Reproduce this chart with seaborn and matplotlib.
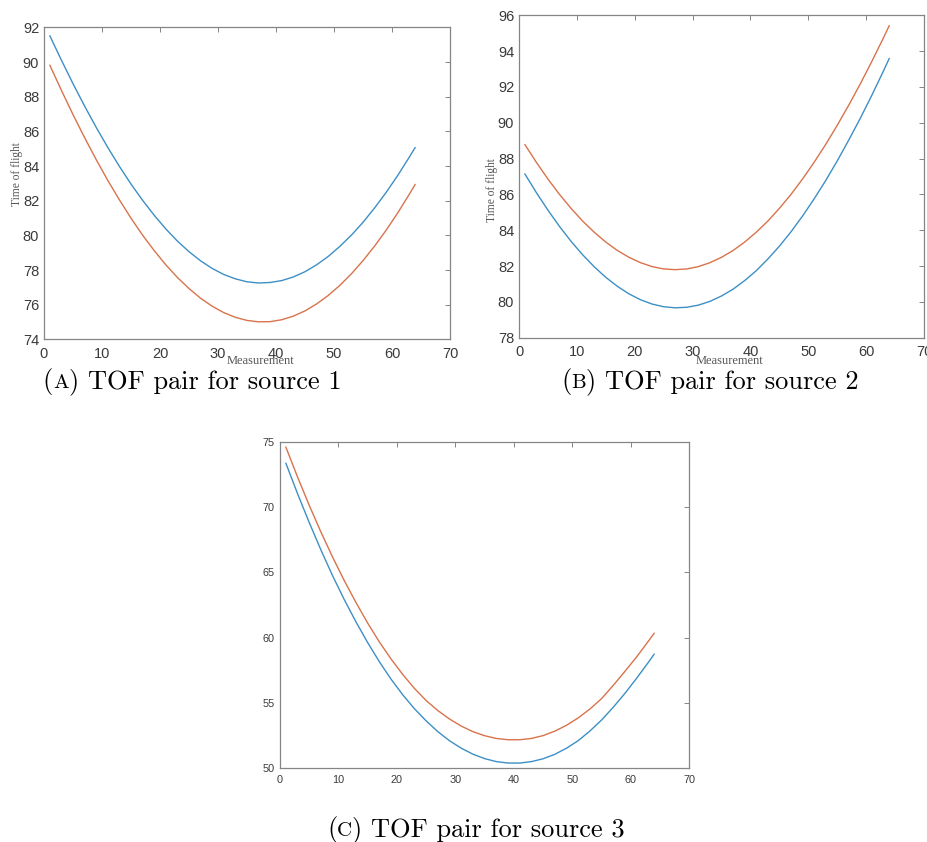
import matplotlib
matplotlib.use("Agg")
import matplotlib.pyplot as plt
import pandas as pd
import seaborn as sns
from matplotlib.offsetbox import TextArea, HPacker, AnnotationBbox

# Measurement index shared by all three sources
measurement = [1, 3, 5, 7, 9, 11, 13, 15, 17, 19, 21, 23, 25, 27, 29, 31, 33,
               35, 37, 39, 41, 43, 45, 47, 49, 51, 53, 55, 57, 59, 61, 63, 64]

# Source 1 time-of-flight pair
tof1_first = [91.52, 90.11, 88.75, 87.46, 86.23, 85.07, 83.98, 82.96, 82.02, 81.16, 80.37,
              79.67, 79.06, 78.53, 78.09, 77.74, 77.49, 77.32, 77.25, 77.28, 77.39, 77.60,
              77.90, 78.30, 78.78, 79.36, 80.01, 80.75, 81.58, 82.48, 83.46, 84.52, 85.07]
tof1_second = [89.82, 88.37, 86.97, 85.64, 84.37, 83.17, 82.05, 80.99, 80.01, 79.12, 78.30,
               77.57, 76.93, 76.37, 75.91, 75.54, 75.27, 75.09, 75.01, 75.02, 75.13, 75.34,
               75.64, 76.04, 76.53, 77.11, 77.78, 78.54, 79.38, 80.30, 81.30, 82.38, 82.94]

# Source 2 time-of-flight pair
tof2_first = [87.15, 86.10, 85.12, 84.21, 83.38, 82.63, 81.96, 81.37, 80.87, 80.45, 80.12,
              79.88, 79.73, 79.67, 79.70, 79.82, 80.03, 80.33, 80.71, 81.19, 81.74, 82.39,
              83.11, 83.91, 84.79, 85.75, 86.77, 87.87, 89.04, 90.26, 91.55, 92.90, 93.60]
tof2_second = [88.79, 87.79, 86.86, 86.00, 85.22, 84.51, 83.89, 83.34, 82.87, 82.49, 82.19,
               81.97, 81.84, 81.80, 81.84, 81.97, 82.19, 82.49, 82.87, 83.34, 83.89, 84.51,
               85.22, 86.00, 86.86, 87.79, 88.79, 89.86, 90.99, 92.18, 93.44, 94.75, 95.43]

# Source 3 time-of-flight pair
tof3_first = [73.40, 71.06, 68.84, 66.73, 64.75, 62.91, 61.20, 59.61, 58.14, 56.80, 55.60,
              54.53, 53.60, 52.77, 52.07, 51.50, 51.04, 50.70, 50.47, 50.36, 50.36, 50.47,
              50.69, 51.03, 51.50, 52.08, 52.82, 53.67, 54.65, 55.72, 56.88, 58.10, 58.73]
tof3_second = [74.64, 72.34, 70.16, 68.11, 66.18, 64.37, 62.69, 61.11, 59.66, 58.35, 57.16,
               56.09, 55.16, 54.39, 53.74, 53.20, 52.77, 52.46, 52.25, 52.15, 52.15, 52.25,
               52.47, 52.81, 53.26, 53.83, 54.51, 55.31, 56.33, 57.41, 58.52, 59.72, 60.34]

x_ticks = [0, 10, 20, 30, 40, 50, 60, 70]
y_ticks_1 = [74, 76, 78, 80, 82, 84, 86, 88, 90, 92]
y_ticks_2 = [78, 80, 82, 84, 86, 88, 90, 92, 94, 96]
y_ticks_3 = [50, 55, 60, 65, 70, 75]

captions = [("A", " TOF pair for source 1"),
            ("B", " TOF pair for source 2"),
            ("C", " TOF pair for source 3")]

BLUE = "#3d8fc5"
ORANGE = "#d8734b"
FRAME = "#858585"
TICKTEXT = "#3a3a3a"
LABEL = "#555555"

sns.set_style("white")
plt.rcParams["font.family"] = ["Liberation Sans", "DejaVu Sans"]

fig = plt.figure(figsize=(9.28, 8.42), dpi=100)
fig.patch.set_facecolor("white")

ax1 = fig.add_axes([0.0474, 0.5970, 0.4375, 0.3705])
ax2 = fig.add_axes([0.5593, 0.5989, 0.4364, 0.3829])
ax3 = fig.add_axes([0.3017, 0.0882, 0.4411, 0.3865])


def draw_pair(ax, first, second, yticks, labelsize, xpad, ypad):
    df = pd.DataFrame({"Measurement": measurement, "first": first, "second": second})
    sns.lineplot(data=df, x="Measurement", y="first", ax=ax, color=BLUE, lw=1.0)
    sns.lineplot(data=df, x="Measurement", y="second", ax=ax, color=ORANGE, lw=1.0)
    ax.set_xlim(x_ticks[0], x_ticks[-1])
    ax.set_ylim(yticks[0], yticks[-1])
    ax.set_xticks(x_ticks)
    ax.set_yticks(yticks)
    ax.set_xlabel("")
    ax.set_ylabel("")
    for sp in ax.spines.values():
        sp.set_color(FRAME)
        sp.set_linewidth(0.9)
    ax.tick_params(axis="both", direction="in", top=True, right=True, length=3.5,
                   width=0.7, color=FRAME, labelcolor=TICKTEXT, labelsize=labelsize)
    ax.tick_params(axis="x", pad=xpad)
    ax.tick_params(axis="y", pad=ypad)


draw_pair(ax1, tof1_first, tof1_second, y_ticks_1, 10.5, 5.5, 3.5)
draw_pair(ax2, tof2_first, tof2_second, y_ticks_2, 10.5, 5.5, 3.5)
draw_pair(ax3, tof3_first, tof3_second, y_ticks_3, 7.8, 5.5, 4.0)

# Axis titles of the two upper panels
label_font = dict(family=["Liberation Serif", "DejaVu Serif"], color=LABEL)
for ax, (xl, yl), (yx, yy) in [(ax1, (0.534, -0.0686), (-0.0665, 0.530)),
                                (ax2, (0.519, -0.0713), (-0.0674, 0.458))]:
    ax.set_xlabel("Measurement", fontsize=9, **label_font)
    ax.xaxis.label.set_va("center")
    ax.xaxis.set_label_coords(xl, yl)
    ax.set_ylabel("Time of flight", fontsize=8.3, **label_font)
    ax.yaxis.label.set_va("center")
    ax.yaxis.set_label_coords(yx, yy)

# Sub-figure captions with a small-capital letter
cap_font = "cmr10"
for (letter, rest), (cx, cy) in zip(captions, [(0.2069, 0.5465), (0.7651, 0.5465), (0.5129, 0.0150)]):
    parts = [
        TextArea("(", textprops=dict(family=cap_font, fontsize=19, color="black")),
        TextArea(letter, textprops=dict(family=cap_font, fontsize=15, color="black")),
        TextArea(")" + rest, textprops=dict(family=cap_font, fontsize=19, color="black")),
    ]
    pack = HPacker(children=parts, align="baseline", pad=0, sep=0)
    ab = AnnotationBbox(pack, (cx, cy), xycoords="figure fraction", frameon=False,
                        box_alignment=(0.5, 0.5), pad=0)
    fig.add_artist(ab)

fig.savefig("out.png", dpi=100, facecolor="white")
